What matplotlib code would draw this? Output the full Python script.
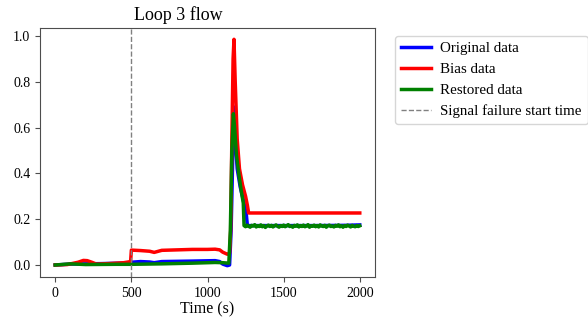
import numpy as np
import matplotlib
matplotlib.use("Agg")
import matplotlib.pyplot as plt

plt.rcParams["font.family"] = ["Liberation Serif", "DejaVu Serif"]
plt.rcParams["mathtext.fontset"] = "stix"

# Original data (blue)
t_orig = [0, 100, 300, 490, 500, 560, 620, 650, 700, 900, 1050, 1080, 1100, 1130, 1145,
          1155, 1165, 1172, 1180, 1195, 1215, 1240, 1255, 1262, 1300, 1500, 1700, 1900, 2000]
v_orig = [0.0, 0.004, 0.006, 0.009, 0.012, 0.015, 0.013, 0.010, 0.015, 0.017, 0.019, 0.015,
          0.004, -0.003, 0.000, 0.15, 0.45, 0.69, 0.58, 0.42, 0.34, 0.27, 0.22, 0.172,
          0.172, 0.172, 0.172, 0.173, 0.175]

# Bias data (red)
t_bias = [0, 80, 150, 185, 210, 240, 270, 350, 450, 495, 500, 560, 620, 650, 700, 800,
          900, 1000, 1050, 1080, 1100, 1130, 1145, 1152, 1160, 1168, 1174, 1182, 1195, 1210,
          1230, 1250, 1262, 1270, 1500, 1800, 2000]
v_bias = [0.0, 0.002, 0.012, 0.020, 0.019, 0.012, 0.004, 0.006, 0.010, 0.015, 0.065, 0.063,
          0.060, 0.055, 0.064, 0.066, 0.068, 0.068, 0.069, 0.066, 0.056, 0.047, 0.052, 0.15,
          0.55, 0.90, 0.985, 0.80, 0.55, 0.42, 0.35, 0.30, 0.26, 0.227, 0.227, 0.227, 0.227]

# Restored data (green)
t_rest = [0, 60, 100, 200, 400, 500, 700, 900, 1050, 1100, 1140, 1150, 1160, 1170, 1178,
          1190, 1205, 1220, 1235, 1240,
          1250, 1260, 1270, 1280, 1290, 1300, 1310, 1320, 1330, 1340, 1350, 1360, 1370,
          1380, 1390, 1400, 1410, 1420, 1430, 1440, 1450, 1460, 1470, 1480, 1490, 1500,
          1510, 1520, 1530, 1540, 1550, 1560, 1570, 1580, 1590, 1600, 1610, 1620, 1630,
          1640, 1650, 1660, 1670, 1680, 1690, 1700, 1710, 1720, 1730, 1740, 1750, 1760,
          1770, 1780, 1790, 1800, 1810, 1820, 1830, 1840, 1850, 1860, 1870, 1880, 1890,
          1900, 1910, 1920, 1930, 1940, 1950, 1960, 1970, 1980, 1990, 2000]
v_rest = [0.0, 0.003, 0.005, 0.002, 0.003, 0.003, 0.005, 0.008, 0.011, 0.010, 0.008, 0.15,
          0.50, 0.66, 0.60, 0.48, 0.40, 0.33, 0.27, 0.172,
          0.167, 0.174, 0.169, 0.165, 0.173, 0.170, 0.176, 0.166, 0.171, 0.168, 0.175,
          0.167, 0.172, 0.164, 0.170, 0.174, 0.168, 0.173, 0.166, 0.171, 0.175, 0.169,
          0.165, 0.172, 0.168, 0.174, 0.167, 0.171, 0.176, 0.168, 0.170, 0.165, 0.173,
          0.169, 0.175, 0.166, 0.172, 0.168, 0.174, 0.167, 0.170, 0.176, 0.165, 0.171,
          0.169, 0.174, 0.167, 0.172, 0.166, 0.175, 0.170, 0.168, 0.173, 0.165, 0.171,
          0.174, 0.168, 0.170, 0.166, 0.173, 0.169, 0.175, 0.167, 0.171, 0.165, 0.172,
          0.168, 0.174, 0.170, 0.166, 0.173, 0.169, 0.167, 0.172, 0.168, 0.171]

fail_time = 500

fig = plt.figure(figsize=(5.88, 3.22), dpi=100)
ax = fig.add_axes([40 / 588, 45 / 322, 335 / 588, 249 / 322])

ax.plot(t_orig, v_orig, color="blue", linewidth=2.5, label="Original data")
ax.plot(t_bias, v_bias, color="red", linewidth=2.5, label="Bias data")
ax.plot(t_rest, v_rest, color="green", linewidth=2.5, label="Restored data")
ax.axvline(fail_time, color="gray", linestyle="--", linewidth=1.0, label="Signal failure start time")

ax.set_title("Loop 3 flow", fontsize=13, x=0.412)
ax.set_xlabel("Time (s)", fontsize=11.5, labelpad=1)
ax.set_xticks([0, 500, 1000, 1500, 2000])
ax.set_yticks([0.0, 0.2, 0.4, 0.6, 0.8, 1.0])
ax.tick_params(labelsize=10, color="0.3")
for s in ax.spines.values():
    s.set_color("0.3")

ax.legend(loc="upper left", bbox_to_anchor=(1.038, 1), fontsize=10.8,
          handletextpad=0.6)

fig.savefig("out.png", dpi=100)
